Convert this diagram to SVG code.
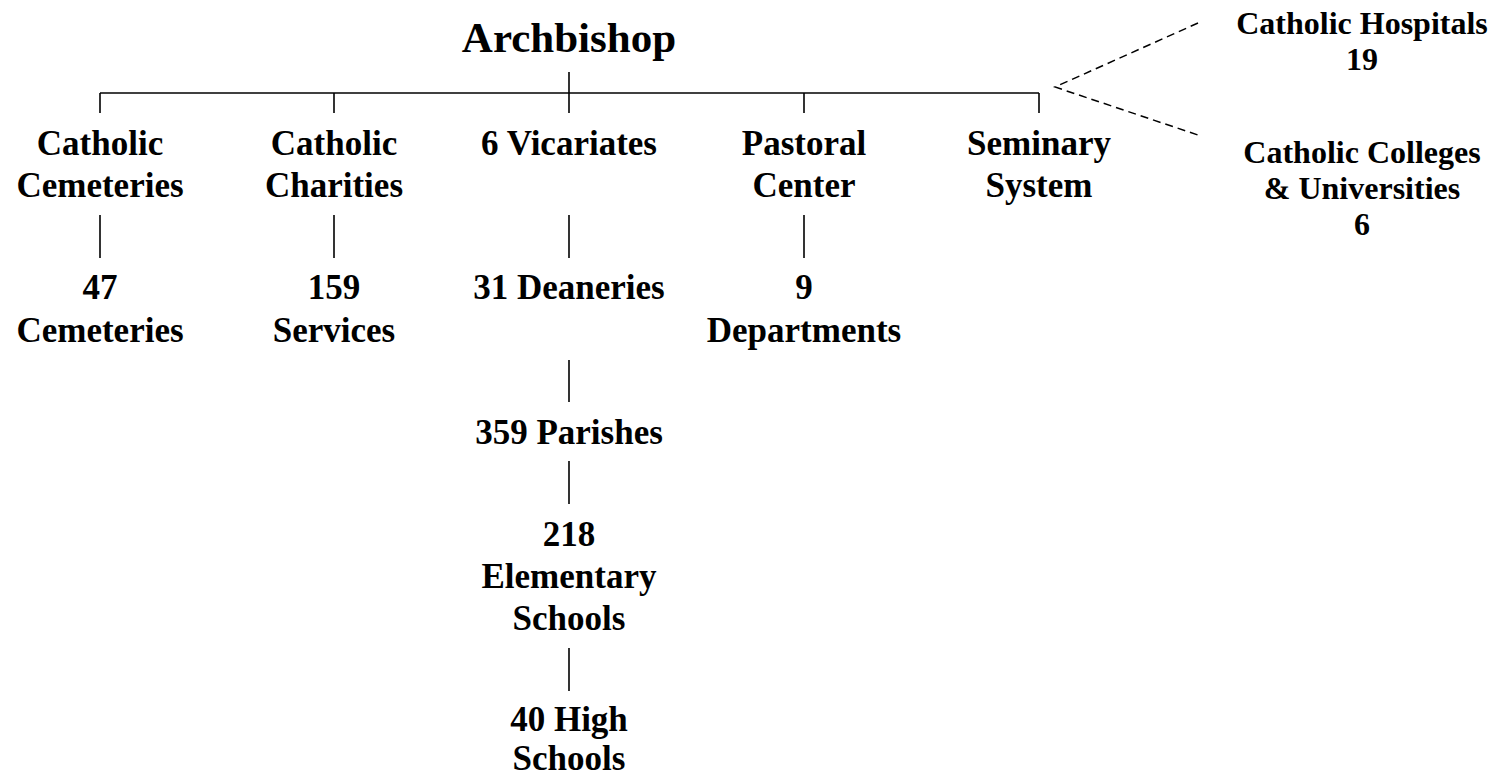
<svg xmlns="http://www.w3.org/2000/svg" width="1498" height="778" viewBox="0 0 1498 778">
<style>
text{font-family:"Liberation Serif","Times New Roman",serif;font-weight:bold;fill:#000;text-anchor:middle}
.t{font-size:35px}
.h{font-size:43px}
.s{font-size:32px}
.ln{stroke:#000;stroke-width:1.6;fill:none}
.ds{stroke:#000;stroke-width:1.5;fill:none;stroke-dasharray:8 5}
</style>
<rect width="1498" height="778" fill="#fff"/>
<g id="connectors">
<line class="ln" x1="569" y1="72" x2="569" y2="113"/>
<line class="ln" x1="100" y1="93" x2="1039" y2="93"/>
<line class="ln" x1="100" y1="93" x2="100" y2="113"/>
<line class="ln" x1="334" y1="93" x2="334" y2="113"/>
<line class="ln" x1="804" y1="93" x2="804" y2="113"/>
<line class="ln" x1="1039" y1="93" x2="1039" y2="113"/>
<line class="ln" x1="100" y1="215" x2="100" y2="258"/>
<line class="ln" x1="334" y1="215" x2="334" y2="258"/>
<line class="ln" x1="569" y1="215" x2="569" y2="258"/>
<line class="ln" x1="804" y1="215" x2="804" y2="258"/>
<line class="ln" x1="569" y1="360" x2="569" y2="402"/>
<line class="ln" x1="569" y1="461" x2="569" y2="504"/>
<line class="ln" x1="569" y1="648" x2="569" y2="691"/>
<polyline class="ds" points="1198,23 1055,87 1198,135"/>
</g>
<g id="archbishop"><text class="h" x="569" y="52">Archbishop</text></g>
<g id="cemeteries"><text class="t" x="100" y="155">Catholic</text><text class="t" x="100" y="197">Cemeteries</text></g>
<g id="charities"><text class="t" x="334" y="155">Catholic</text><text class="t" x="334" y="197">Charities</text></g>
<g id="vicariates"><text class="t" x="569" y="155">6 Vicariates</text></g>
<g id="pastoral"><text class="t" x="804" y="155">Pastoral</text><text class="t" x="804" y="197">Center</text></g>
<g id="seminary"><text class="t" x="1039" y="155">Seminary</text><text class="t" x="1039" y="197">System</text></g>
<g id="hospitals"><text class="s" x="1362" y="34">Catholic Hospitals</text><text class="s" x="1362" y="70">19</text></g>
<g id="colleges"><text class="s" x="1362" y="163">Catholic Colleges</text><text class="s" x="1362" y="199">&amp; Universities</text><text class="s" x="1362" y="235">6</text></g>
<g id="n47"><text class="t" x="100" y="299">47</text><text class="t" x="100" y="342">Cemeteries</text></g>
<g id="n159"><text class="t" x="334" y="299">159</text><text class="t" x="334" y="342">Services</text></g>
<g id="deaneries"><text class="t" x="569" y="299">31 Deaneries</text></g>
<g id="departments"><text class="t" x="804" y="299">9</text><text class="t" x="804" y="342">Departments</text></g>
<g id="parishes"><text class="t" x="569" y="444">359 Parishes</text></g>
<g id="elementary"><text class="t" x="569" y="546">218</text><text class="t" x="569" y="588">Elementary</text><text class="t" x="569" y="630">Schools</text></g>
<g id="high"><text class="t" x="569" y="731">40 High</text><text class="t" x="569" y="770">Schools</text></g>
</svg>
